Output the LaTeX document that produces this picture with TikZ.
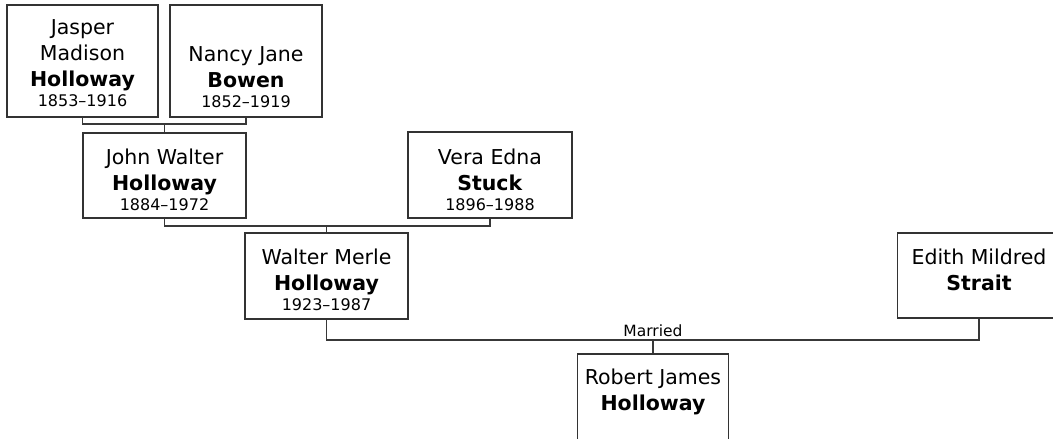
\documentclass[tikz,border=0pt]{standalone}
\usepackage{fontspec}
\setmainfont{DejaVu Sans}
\tikzset{
  box/.style={draw=black!80, line width=1.3pt, fill=white, inner sep=0pt},
  txt/.style={anchor=north, inner sep=0pt, align=center, font=\fontsize{20.5}{26}\selectfont},
  link/.style={draw=black!78, line width=1.4pt},
  small/.style={inner sep=0pt, font=\fontsize{15.5}{18}\selectfont},
}
\newcommand{\dt}[1]{\\[-6pt]{\fontsize{16}{19}\selectfont #1}}
\begin{document}
\begin{tikzpicture}[x=1pt,y=-1pt]
\useasboundingbox (0,0) rectangle (1053,439);
% boxes
\node[box, minimum width=151pt, minimum height=112pt] (jasper) at (82.5,61) {};
\node[box, minimum width=152pt, minimum height=112pt] (nancy) at (246,61) {};
\node[box, minimum width=163pt, minimum height=85pt] (john) at (164.5,175.5) {};
\node[box, minimum width=164pt, minimum height=86pt] (vera) at (490,175) {};
\node[box, minimum width=163pt, minimum height=86pt] (walter) at (326.5,276) {};
\node[box, minimum width=163pt, minimum height=85pt] (edith) at (979,275.5) {};
\node[box, minimum width=151pt, minimum height=90pt] (robert) at (653,399) {};
% texts
\node[txt] (jasper-t) at ([yshift=-15.5pt]jasper.north) {Jasper\\Madison\\\textbf{Holloway}\dt{1853–1916}};
\node[txt] (nancy-t) at ([yshift=-42pt]nancy.north) {Nancy Jane\\\textbf{Bowen}\dt{1852–1919}};
\node[txt] (john-t) at ([yshift=-16pt]john.north) {John Walter\\\textbf{Holloway}\dt{1884–1972}};
\node[txt] (vera-t) at ([yshift=-17pt]vera.north) {Vera Edna\\\textbf{Stuck}\dt{1896–1988}};
\node[txt] (walter-t) at ([yshift=-16pt]walter.north) {Walter Merle\\\textbf{Holloway}\dt{1923–1987}};
\node[txt] (edith-t) at ([yshift=-16pt]edith.north) {Edith Mildred\\\textbf{Strait}};
\node[txt] (robert-t) at ([yshift=-15.5pt]robert.north) {Robert James\\\textbf{Holloway}};
% connectors
\coordinate (jn) at (164.5,124);
\coordinate (jv) at (326.5,226);
\coordinate (we) at (653,340);
\draw[link] (jasper.south) |- (jn) -| (nancy.south);
\draw[link] (jn) -- (john.north);
\draw[link] (john.south) |- (jv) -| (vera.south);
\draw[link] (jv) -- (walter.north);
\draw[link] (walter.south) |- (we) -| (edith.south);
\draw[link] (we) -- (robert.north);
\node[small, anchor=base] (married) at ([yshift=4pt]we) {Married};
\end{tikzpicture}
\end{document}
